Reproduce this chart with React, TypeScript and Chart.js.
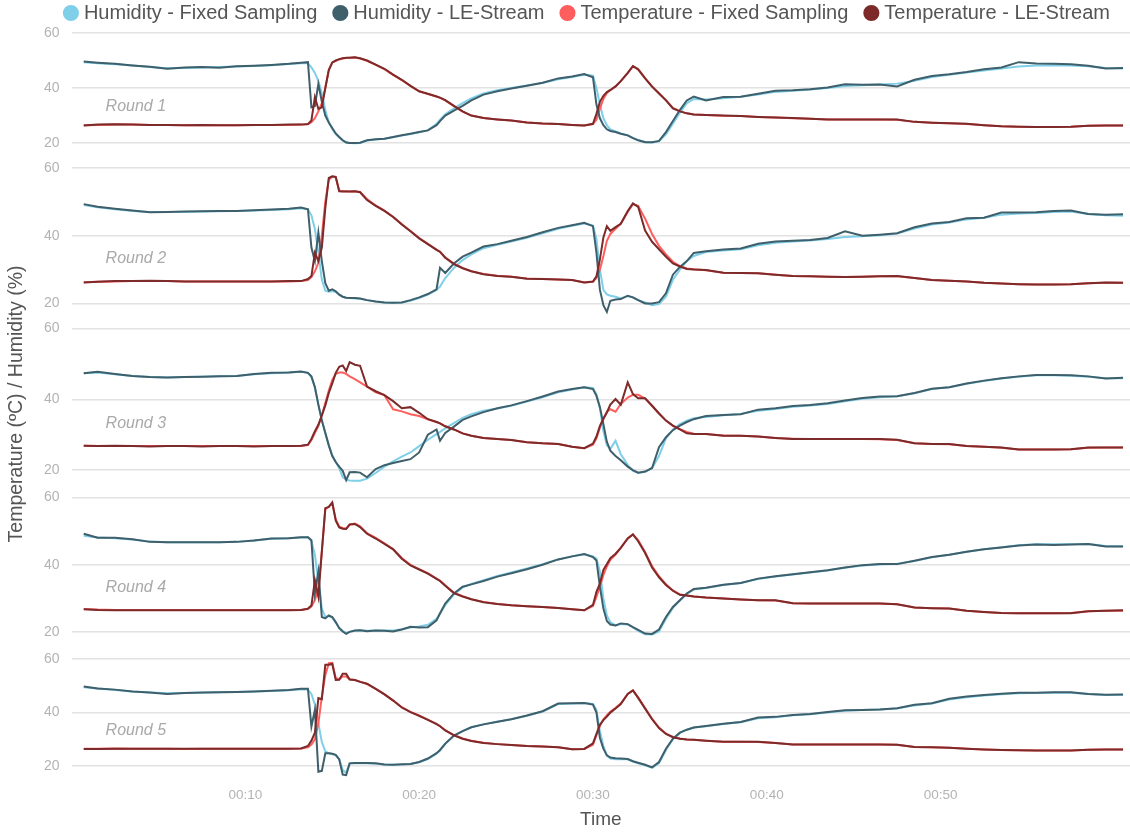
import React, { useEffect, useRef } from "react";
import { Chart, registerables } from "chart.js";

Chart.register(...registerables);

// Shared sampling grid (minutes since start), used by every round.
const minutes = [
  0.7, 1.5, 2.5, 3.5, 4.5, 5.5, 6.5, 7.5, 8.5, 9.5, 10.5, 11.5, 12.5, 13.2,
  13.6, 13.8, 14.0, 14.2, 14.4, 14.6, 14.8, 15.0, 15.2, 15.4, 15.6, 15.8, 16.0, 16.3, 16.6,
  17.0, 17.5, 18.0, 18.5, 19.0, 19.5, 20.0, 20.5, 21.0, 21.2, 21.5, 22.0, 22.5, 23.0, 23.7, 24.5, 25.3, 26.2, 27.1, 28.0, 28.8, 29.5,
  30.0, 30.2, 30.4, 30.6, 30.8, 31.0, 31.3, 31.6, 32.0, 32.3, 32.6, 33.0, 33.4, 33.8, 34.2, 34.6, 35.0, 35.4, 35.8,
  36.5, 37.5, 38.5, 39.5, 40.5, 41.5, 42.5, 43.5, 44.5, 45.5, 46.5, 47.5, 48.5, 49.5, 50.5, 51.5, 52.5, 53.5, 54.5, 55.5, 56.5, 57.5, 58.5, 59.5, 60.5,
];

// ---- Round 1 ----
const round1HumidityFixed = [
  49.4, 49.0, 48.6, 48.2, 47.6, 47.2, 47.3, 47.5, 47.6, 47.8, 48.0, 48.3, 48.7, 49.0,
  49.0, 47.5, 45.5, 42.5, 38.0, 32.0, 27.5, 25.0, 23.3, 22.0, 21.0, 20.3, 20.0, 19.9, 20.0,
  20.9, 21.3, 21.6, 22.1, 22.7, 23.3, 23.9, 24.6, 27.0, 28.5, 30.5, 32.6, 34.5, 36.2, 38.0, 39.2, 40.0, 40.9, 41.8, 43.2, 44.0, 44.8,
  44.5, 40.0, 34.0, 29.0, 26.5, 25.0, 24.2, 23.5, 22.8, 21.9, 21.1, 20.4, 20.2, 20.6, 23.2, 27.0, 31.0, 34.5, 36.0,
  35.8, 36.3, 36.8, 37.6, 38.6, 39.0, 39.5, 40.0, 40.7, 41.0, 41.3, 41.6, 42.6, 44.0, 44.8, 45.6, 46.4, 47.1, 47.8, 48.2, 48.3, 48.2, 47.9, 47.3, 47.1,
];
const round1HumidityLE = [
  49.6, 49.2, 48.8, 48.2, 47.7, 47.0, 47.5, 47.6, 47.4, 47.9, 48.1, 48.4, 48.8, 49.2,
  49.4, 33.0, 33.5, 41.5, 35.0, 30.0, 27.5, 25.5, 23.5, 22.2, 21.0, 20.2, 20.0, 20.0, 20.1,
  21.0, 21.4, 21.6, 22.2, 22.8, 23.4, 24.0, 24.6, 26.5, 28.0, 30.0, 31.8, 33.5, 35.5, 37.6, 38.8, 39.8, 40.8, 41.9, 43.5, 44.2, 45.1,
  43.9, 34.0, 29.0, 26.5, 25.0, 24.4, 24.0, 23.4, 22.8, 21.8, 21.0, 20.3, 20.3, 20.8, 24.0, 28.0, 32.0, 35.5, 36.9,
  35.5, 36.7, 36.8, 37.9, 39.0, 39.2, 39.6, 40.2, 41.4, 41.2, 41.3, 40.6, 43.0, 44.4, 45.0, 45.8, 46.8, 47.5, 49.4, 48.9, 48.8, 48.6, 48.1, 47.1, 47.3,
];
const round1TempFixed = [
  26.5, 26.6, 26.7, 26.7, 26.6, 26.6, 26.5, 26.5, 26.5, 26.5, 26.6, 26.6, 26.6, 26.7,
  26.8, 27.6, 29.0, 31.5, 34.5, 40.0, 46.5, 49.2, 49.9, 50.4, 50.7, 50.9, 51.0, 51.1, 50.7,
  49.9, 48.4, 46.9, 44.8, 42.9, 40.8, 38.8, 37.8, 36.9, 36.4, 35.5, 33.4, 31.4, 30.0, 29.1, 28.6, 28.2, 27.5, 27.1, 26.9, 26.6, 26.4,
  26.9, 28.5, 32.5, 36.0, 38.2, 39.2, 40.6, 42.5, 45.4, 47.9, 46.8, 43.6, 40.6, 38.1, 35.6, 32.8, 31.6, 30.8, 30.4,
  30.2, 29.9, 29.8, 29.5, 29.3, 29.0, 28.8, 28.6, 28.6, 28.6, 28.6, 28.5, 27.7, 27.4, 27.2, 26.9, 26.5, 26.1, 25.9, 25.8, 25.8, 25.9, 26.3, 26.4, 26.4,
];
const round1TempLE = [
  26.4, 26.7, 26.8, 26.7, 26.6, 26.6, 26.5, 26.6, 26.5, 26.5, 26.6, 26.6, 26.7, 26.7,
  26.9, 28.2, 36.7, 32.4, 33.0, 40.0, 46.5, 49.3, 50.0, 50.5, 50.8, 51.0, 51.0, 51.2, 50.8,
  50.0, 48.5, 47.0, 44.9, 43.0, 40.8, 38.8, 37.9, 36.9, 36.5, 35.6, 33.5, 31.5, 30.0, 29.1, 28.6, 28.2, 27.5, 27.1, 26.9, 26.6, 26.4,
  27.0, 30.6, 35.0, 37.2, 38.5, 39.3, 40.6, 42.5, 45.5, 48.0, 46.8, 43.5, 40.5, 38.0, 35.5, 32.6, 31.5, 30.8, 30.4,
  30.2, 30.0, 29.8, 29.5, 29.3, 29.1, 28.8, 28.6, 28.6, 28.6, 28.6, 28.6, 27.7, 27.4, 27.2, 27.0, 26.5, 26.1, 25.9, 25.8, 25.8, 25.9, 26.3, 26.4, 26.4,
];

// ---- Round 2 ----
const round2HumidityFixed = [
  49.0, 48.4, 47.8, 47.3, 47.0, 47.0, 47.0, 47.1, 47.2, 47.3, 47.4, 47.6, 47.8, 48.1,
  47.8, 46.0, 42.0, 35.0, 27.0, 23.8, 23.5, 23.7, 23.4, 22.6, 22.0, 21.7, 21.6, 21.5, 21.4,
  21.0, 20.6, 20.3, 20.2, 20.3, 20.8, 21.6, 22.6, 24.0, 25.0, 27.5, 30.5, 32.8, 34.5, 36.3, 37.3, 38.3, 39.4, 40.7, 42.0, 42.9, 43.6,
  43.0, 39.0, 30.0, 24.0, 22.7, 22.3, 22.0, 21.5, 22.2, 21.8, 21.0, 20.3, 19.5, 19.8, 22.0, 27.0, 30.0, 32.5, 34.0,
  35.2, 35.6, 36.0, 37.2, 37.9, 38.3, 38.6, 39.0, 39.6, 39.8, 40.1, 40.6, 42.1, 43.3, 43.9, 44.8, 45.3, 46.2, 46.5, 46.7, 47.0, 47.1, 46.4, 46.0, 45.9,
];
const round2HumidityLE = [
  49.3, 48.5, 47.9, 47.4, 46.9, 47.0, 47.1, 47.2, 47.3, 47.3, 47.5, 47.7, 47.9, 48.3,
  47.8, 36.5, 32.5, 40.9, 32.5, 26.0, 23.8, 24.2, 23.6, 22.6, 22.0, 21.7, 21.6, 21.6, 21.5,
  21.0, 20.6, 20.3, 20.2, 20.3, 21.0, 21.8, 22.8, 24.2, 30.5, 29.0, 31.8, 33.8, 35.0, 36.8, 37.5, 38.5, 39.6, 41.0, 42.3, 43.1, 43.8,
  42.8, 35.0, 24.0, 19.5, 17.5, 20.8, 21.2, 21.3, 22.3, 21.8, 21.0, 20.0, 20.0, 20.4, 23.0, 28.5, 30.8, 32.5, 34.9,
  35.4, 35.9, 36.2, 37.6, 38.3, 38.5, 38.7, 39.3, 41.3, 40.0, 40.3, 40.7, 42.5, 43.6, 44.0, 45.1, 45.3, 46.8, 46.8, 46.9, 47.3, 47.4, 46.4, 46.2, 46.3,
];
const round2TempFixed = [
  26.3, 26.4, 26.5, 26.6, 26.6, 26.6, 26.5, 26.5, 26.5, 26.5, 26.5, 26.5, 26.5, 26.6,
  26.9, 27.8, 29.5, 32.0, 40.0, 50.0, 56.5, 57.4, 57.2, 53.3, 53.1, 53.1, 53.0, 53.1, 52.9,
  50.8, 48.9, 47.4, 45.6, 43.4, 41.4, 39.3, 37.6, 35.9, 35.3, 33.6, 31.8, 30.5, 29.5, 28.7, 28.2, 27.9, 27.4, 27.2, 27.1, 26.9, 26.2,
  26.4, 27.5, 30.0, 34.0, 38.5, 40.5, 42.0, 43.5, 47.0, 49.3, 48.8, 45.0, 40.5, 37.0, 34.5, 32.3, 31.0, 30.3, 30.1,
  29.8, 29.1, 29.0, 28.9, 28.5, 28.1, 28.0, 27.9, 27.8, 27.9, 28.0, 28.0, 27.5, 26.9, 26.7, 26.5, 26.1, 25.9, 25.7, 25.6, 25.6, 25.7, 26.0, 26.1, 26.1,
];
const round2TempLE = [
  26.2, 26.4, 26.6, 26.6, 26.7, 26.6, 26.5, 26.5, 26.5, 26.5, 26.5, 26.5, 26.6, 26.6,
  27.2, 28.1, 35.0, 32.5, 36.5, 48.2, 57.0, 57.5, 57.3, 53.1, 53.0, 53.0, 53.0, 53.1, 52.8,
  50.5, 48.8, 47.3, 45.5, 43.3, 41.3, 39.2, 37.5, 35.8, 35.2, 33.5, 31.6, 30.4, 29.5, 28.6, 28.1, 27.9, 27.3, 27.2, 27.1, 26.9, 26.2,
  26.5, 28.0, 33.0, 39.5, 42.8, 41.4, 42.5, 43.5, 47.3, 49.5, 48.5, 41.5, 38.2, 36.0, 33.8, 31.8, 30.9, 30.2, 30.0,
  29.9, 29.1, 29.0, 28.9, 28.5, 28.1, 28.0, 27.9, 27.8, 27.9, 28.0, 28.1, 27.5, 26.9, 26.7, 26.5, 26.1, 25.9, 25.7, 25.6, 25.6, 25.7, 26.0, 26.2, 26.1,
];

// ---- Round 3 ----
const round3HumidityFixed = [
  47.4, 47.6, 47.1, 46.6, 46.3, 46.2, 46.3, 46.4, 46.5, 46.6, 47.1, 47.4, 47.6, 47.8,
  47.5, 46.3, 43.3, 38.5, 34.2, 30.5, 27.0, 24.2, 22.3, 20.5, 18.0, 17.3, 17.1, 17.0, 17.0,
  17.6, 19.2, 21.0, 22.5, 23.8, 25.0, 26.8, 28.6, 30.2, 30.8, 31.8, 33.3, 34.8, 35.8, 36.8, 37.4, 38.2, 39.4, 40.6, 42.0, 42.8, 43.4,
  43.2, 41.5, 37.5, 31.0, 27.0, 26.0, 28.3, 24.5, 21.5, 19.8, 19.2, 19.5, 20.5, 24.0, 29.0, 31.5, 33.0, 34.0, 34.7,
  35.0, 35.5, 35.9, 36.8, 37.3, 37.9, 38.3, 38.7, 39.5, 40.2, 40.6, 40.9, 41.7, 42.9, 43.4, 44.4, 45.2, 45.9, 46.4, 46.8, 46.8, 46.7, 46.4, 46.0, 46.0,
];
const round3HumidityLE = [
  47.4, 47.8, 47.2, 46.6, 46.3, 46.2, 46.3, 46.4, 46.5, 46.6, 47.2, 47.5, 47.6, 47.9,
  47.5, 46.5, 43.5, 38.5, 34.0, 30.5, 27.0, 24.0, 22.3, 21.0, 19.8, 17.2, 19.4, 19.5, 19.3,
  18.0, 20.3, 21.4, 22.0, 22.6, 23.1, 25.0, 30.0, 31.5, 28.3, 30.5, 32.3, 34.2, 35.2, 36.4, 37.5, 38.3, 39.5, 40.8, 42.2, 42.9, 43.4,
  42.9, 41.0, 37.8, 33.0, 28.0, 25.5, 24.0, 22.8, 21.0, 20.0, 19.3, 19.6, 20.6, 26.5, 29.3, 31.3, 32.6, 33.6, 34.4,
  35.3, 35.6, 35.8, 37.1, 37.5, 38.1, 38.4, 38.9, 39.7, 40.4, 40.8, 40.9, 41.8, 43.0, 43.4, 44.5, 45.3, 46.0, 46.5, 46.9, 46.9, 46.8, 46.5, 45.9, 46.1,
];
const round3TempFixed = [
  26.9, 26.8, 26.8, 26.8, 26.8, 26.8, 26.8, 26.8, 26.8, 26.8, 26.8, 26.8, 26.8, 26.8,
  27.1, 28.5, 30.5, 32.5, 35.5, 39.0, 42.5, 45.5, 47.2, 47.6, 47.6, 47.2, 46.5, 45.7, 44.8,
  43.6, 42.0, 41.2, 37.2, 36.6, 35.8, 35.3, 34.4, 33.6, 33.2, 32.4, 31.5, 30.4, 29.7, 29.1, 28.8, 28.5, 27.9, 27.6, 27.4, 26.6, 26.2,
  27.2, 29.0, 32.0, 34.5, 36.5, 37.2, 36.5, 38.7, 40.5, 41.3, 41.3, 40.2, 38.2, 36.0, 34.0, 32.5, 31.6, 30.8, 30.3,
  30.2, 29.8, 29.7, 29.5, 29.1, 28.9, 28.8, 28.8, 28.8, 28.8, 28.7, 28.5, 27.6, 27.4, 27.3, 26.8, 26.6, 26.3, 25.8, 25.8, 25.8, 25.9, 26.3, 26.4, 26.4,
];
const round3TempLE = [
  26.9, 26.8, 26.9, 26.8, 26.7, 26.8, 26.8, 26.7, 26.8, 26.8, 26.7, 26.8, 26.8, 26.9,
  27.2, 28.8, 31.0, 32.8, 35.5, 38.3, 41.8, 44.5, 47.5, 49.2, 49.6, 48.0, 50.5, 49.8, 49.5,
  43.6, 42.3, 41.2, 39.5, 37.5, 37.8, 36.2, 34.4, 33.6, 33.2, 32.4, 31.5, 30.4, 29.7, 29.1, 28.8, 28.5, 27.9, 27.6, 27.4, 26.6, 26.2,
  27.5, 29.5, 32.5, 34.5, 36.3, 38.5, 40.1, 38.5, 44.8, 41.5, 40.3, 40.3, 38.2, 36.0, 34.0, 32.6, 31.5, 30.4, 30.2,
  30.2, 29.7, 29.7, 29.5, 29.1, 28.8, 28.8, 28.8, 28.8, 28.8, 28.8, 28.6, 27.6, 27.4, 27.4, 26.8, 26.6, 26.4, 25.8, 25.8, 25.8, 25.9, 26.4, 26.4, 26.4,
];

// ---- Round 4 ----
const round4HumidityFixed = [
  48.6, 48.1, 47.9, 47.5, 46.9, 46.7, 46.7, 46.7, 46.7, 46.8, 47.2, 47.7, 47.9, 48.1,
  48.2, 47.0, 43.0, 35.0, 27.0, 24.5, 24.8, 24.3, 22.8, 21.3, 20.4, 19.8, 20.1, 20.4, 20.6,
  20.4, 20.5, 20.5, 20.5, 20.9, 21.4, 21.7, 22.2, 24.0, 25.5, 28.0, 31.2, 33.3, 34.3, 35.4, 36.7, 37.7, 38.9, 40.2, 41.6, 42.5, 43.1,
  42.5, 41.8, 38.0, 30.0, 25.0, 23.0, 22.0, 22.4, 22.3, 21.4, 20.4, 19.4, 19.3, 20.2, 24.0, 27.2, 29.4, 31.4, 32.7,
  33.1, 34.0, 34.6, 35.8, 36.5, 37.1, 37.7, 38.3, 39.1, 39.8, 40.1, 40.3, 41.1, 42.2, 43.0, 43.9, 44.6, 45.2, 45.8, 46.1, 46.1, 46.1, 46.2, 45.6, 45.5,
];
const round4HumidityLE = [
  49.2, 48.0, 48.0, 47.6, 46.8, 46.7, 46.7, 46.7, 46.7, 46.8, 47.2, 47.8, 47.9, 48.2,
  48.2, 47.3, 31.5, 38.0, 24.5, 24.1, 25.0, 24.5, 23.0, 21.2, 20.2, 19.5, 20.1, 20.5, 20.6,
  20.3, 20.5, 20.4, 20.2, 20.8, 21.6, 21.4, 21.5, 23.5, 25.6, 28.5, 31.5, 33.5, 34.2, 35.2, 36.5, 37.5, 38.7, 40.0, 41.6, 42.5, 43.2,
  42.3, 41.3, 33.5, 27.0, 23.3, 22.3, 22.0, 22.6, 22.4, 21.5, 20.7, 19.6, 19.5, 20.8, 24.5, 27.5, 29.5, 31.5, 32.8,
  33.2, 34.1, 34.6, 35.9, 36.6, 37.2, 37.8, 38.4, 39.2, 39.9, 40.2, 40.2, 41.2, 42.3, 43.0, 43.9, 44.6, 45.1, 45.7, 46.0, 45.9, 46.0, 46.2, 45.4, 45.4,
];
const round4TempFixed = [
  26.9, 26.7, 26.6, 26.6, 26.6, 26.6, 26.6, 26.6, 26.6, 26.6, 26.6, 26.6, 26.6, 26.6,
  26.9, 27.6, 29.5, 33.0, 44.0, 56.5, 57.2, 58.3, 53.5, 51.3, 50.9, 50.8, 51.9, 52.2, 51.4,
  49.4, 48.0, 46.4, 44.7, 42.0, 40.0, 38.7, 37.5, 35.9, 35.3, 33.9, 31.7, 30.7, 29.8, 29.0, 28.4, 28.0, 27.7, 27.5, 27.2, 26.8, 26.5,
  27.8, 30.5, 33.5, 37.0, 39.5, 41.5, 43.0, 45.0, 47.8, 49.0, 47.3, 43.8, 39.6, 36.6, 34.2, 32.4, 31.2, 30.9, 30.6,
  30.3, 30.0, 29.7, 29.5, 29.4, 28.6, 28.5, 28.5, 28.5, 28.5, 28.5, 28.3, 27.3, 27.1, 27.0, 26.4, 26.0, 25.7, 25.6, 25.6, 25.6, 25.7, 26.2, 26.4, 26.4,
];
const round4TempLE = [
  26.8, 26.6, 26.5, 26.5, 26.5, 26.5, 26.5, 26.5, 26.5, 26.5, 26.5, 26.5, 26.5, 26.6,
  27.0, 27.9, 35.4, 30.5, 44.0, 56.8, 57.2, 58.5, 53.1, 51.1, 50.7, 50.6, 52.0, 52.1, 51.2,
  49.2, 47.8, 46.2, 44.6, 41.8, 39.8, 38.6, 37.4, 35.8, 35.2, 33.8, 31.6, 30.6, 29.8, 28.9, 28.4, 28.0, 27.7, 27.5, 27.2, 26.8, 26.5,
  28.1, 32.0, 34.4, 38.5, 40.2, 42.0, 43.3, 45.0, 47.8, 49.0, 47.0, 43.5, 39.2, 36.3, 34.0, 32.3, 31.1, 30.9, 30.6,
  30.3, 30.0, 29.7, 29.5, 29.5, 28.6, 28.5, 28.5, 28.5, 28.5, 28.5, 28.3, 27.3, 27.1, 27.0, 26.4, 26.0, 25.7, 25.6, 25.6, 25.6, 25.6, 26.2, 26.4, 26.5,
];

// ---- Round 5 ----
const round5HumidityFixed = [
  49.5, 49.0, 48.5, 47.9, 47.5, 47.2, 47.3, 47.4, 47.6, 47.7, 47.9, 48.1, 48.4, 48.7,
  48.6, 47.0, 43.0, 36.0, 29.0, 25.5, 24.8, 24.5, 24.0, 22.6, 18.5, 17.5, 21.0, 21.1, 21.0,
  21.0, 20.9, 20.6, 20.5, 20.6, 20.8, 21.4, 22.6, 24.6, 25.8, 28.2, 31.3, 33.1, 34.5, 35.6, 36.6, 37.5, 38.8, 40.4, 43.2, 43.4, 43.6,
  43.2, 41.0, 33.0, 27.5, 24.0, 22.8, 22.5, 22.6, 22.5, 21.7, 21.0, 20.3, 19.4, 21.0, 26.0, 30.0, 32.4, 33.6, 34.4,
  34.9, 35.7, 36.4, 37.9, 38.3, 39.0, 39.4, 40.0, 40.7, 41.0, 41.2, 41.5, 42.7, 43.4, 44.9, 45.7, 46.4, 46.9, 47.2, 47.3, 47.4, 47.4, 47.0, 46.6, 46.7,
];
const round5HumidityLE = [
  49.8, 49.0, 48.6, 47.9, 47.5, 47.0, 47.3, 47.5, 47.6, 47.7, 47.9, 48.2, 48.5, 48.9,
  48.9, 34.8, 41.0, 17.9, 18.2, 24.8, 24.8, 24.6, 24.2, 22.5, 16.8, 16.6, 21.0, 21.1, 21.1,
  21.1, 21.0, 20.6, 20.5, 20.7, 20.8, 21.5, 22.8, 24.8, 26.0, 28.4, 31.4, 33.1, 34.5, 35.6, 36.6, 37.5, 38.9, 40.5, 43.4, 43.5, 43.6,
  43.0, 40.0, 30.5, 26.5, 24.0, 23.2, 22.9, 22.8, 22.6, 21.8, 21.2, 20.5, 19.5, 21.5, 26.5, 30.2, 32.5, 33.6, 34.4,
  35.0, 35.8, 36.5, 38.2, 38.4, 39.1, 39.5, 40.2, 40.9, 41.0, 41.2, 41.6, 42.9, 43.5, 45.2, 46.0, 46.6, 47.1, 47.4, 47.4, 47.6, 47.6, 47.0, 46.7, 46.8,
];
const round5TempFixed = [
  26.5, 26.5, 26.6, 26.5, 26.5, 26.5, 26.4, 26.5, 26.5, 26.5, 26.5, 26.5, 26.5, 26.6,
  27.0, 28.0, 30.0, 36.0, 46.0, 54.0, 58.5, 58.6, 53.0, 52.5, 53.5, 53.5, 52.5, 52.2, 51.6,
  50.7, 48.9, 46.9, 44.6, 42.0, 40.3, 38.9, 37.4, 35.8, 35.0, 33.4, 31.6, 30.3, 29.5, 28.7, 28.2, 27.9, 27.5, 27.3, 27.0, 26.3, 26.4,
  28.0, 31.5, 35.0, 37.5, 39.0, 40.3, 41.8, 43.4, 47.0, 48.3, 45.7, 41.7, 37.7, 34.4, 32.1, 30.9, 30.3, 29.9, 29.8,
  29.5, 29.1, 29.1, 29.0, 28.6, 28.1, 28.1, 28.1, 28.1, 28.1, 28.1, 28.0, 27.1, 27.0, 26.8, 26.5, 26.2, 26.0, 25.9, 25.8, 25.8, 25.8, 26.1, 26.2, 26.2,
];
const round5TempLE = [
  26.4, 26.4, 26.5, 26.5, 26.5, 26.5, 26.5, 26.5, 26.5, 26.5, 26.5, 26.5, 26.5, 26.6,
  27.5, 29.5, 32.5, 45.4, 45.0, 57.9, 57.9, 58.2, 52.2, 52.3, 54.5, 54.5, 52.4, 52.2, 51.5,
  50.8, 48.9, 46.8, 44.5, 41.9, 40.2, 38.8, 37.3, 35.7, 34.9, 33.3, 31.5, 30.2, 29.4, 28.6, 28.2, 27.9, 27.5, 27.3, 27.0, 26.3, 26.4,
  28.5, 32.0, 35.5, 37.2, 38.5, 40.0, 41.5, 43.2, 47.0, 48.3, 45.5, 41.5, 37.5, 34.2, 32.0, 30.8, 30.2, 29.9, 29.8,
  29.5, 29.1, 29.1, 29.1, 28.6, 28.1, 28.1, 28.1, 28.1, 28.1, 28.1, 28.0, 27.1, 27.0, 26.8, 26.5, 26.2, 26.0, 25.9, 25.8, 25.8, 25.8, 26.1, 26.2, 26.2,
];

const roundNames = ["Round 1", "Round 2", "Round 3", "Round 4", "Round 5"];
const seriesLabels = [
  "Humidity - Fixed Sampling",
  "Humidity - LE-Stream",
  "Temperature - Fixed Sampling",
  "Temperature - LE-Stream",
];
const yTickValues = [20, 40, 60];
const xTickMinutes = [10, 20, 30, 40, 50];

const roundSeries = [
  [round1HumidityFixed, round1HumidityLE, round1TempFixed, round1TempLE],
  [round2HumidityFixed, round2HumidityLE, round2TempFixed, round2TempLE],
  [round3HumidityFixed, round3HumidityLE, round3TempFixed, round3TempLE],
  [round4HumidityFixed, round4HumidityLE, round4TempFixed, round4TempLE],
  [round5HumidityFixed, round5HumidityLE, round5TempFixed, round5TempLE],
];

// Styling
const FONT = '"Liberation Sans", Arial, Helvetica, sans-serif';
const seriesColors = ["#7fcfe9", "#3f5f6b", "#ff5e5e", "#7c2a2a"];
const seriesDrawOrder = [4, 2, 3, 1]; // dark (LE-Stream) lines sit above the light ones
const panelMins = [11, 12.6, 12.3, 12, 12.9];
const panelHeights = [135, 161, 169, 162, 126];
const roundLabelLevel = 33.3;
const yTitle = "Temperature (ºC) / Humidity (%)";

const roundLabelsPlugin = {
  id: "roundLabels",
  beforeDatasetsDraw(chart: any) {
    const { ctx, chartArea } = chart;
    ctx.save();
    ctx.font = `italic 16px ${FONT}`;
    ctx.fillStyle = "#a9a9a9";
    ctx.textBaseline = "middle";
    ctx.textAlign = "left";
    roundNames.forEach((name, i) => {
      const scale = chart.scales[`y${i + 1}`];
      ctx.fillText(name, chartArea.left + 34, scale.getPixelForValue(roundLabelLevel));
    });
    ctx.restore();
  },
  afterDraw(chart: any) {
    const { ctx, chartArea } = chart;
    ctx.save();
    ctx.translate(17, (chartArea.top + chartArea.bottom) / 2 - 5);
    ctx.rotate(-Math.PI / 2);
    ctx.font = `19.5px ${FONT}`;
    ctx.fillStyle = "#555555";
    ctx.textAlign = "center";
    ctx.textBaseline = "middle";
    ctx.fillText(yTitle, 0, 0);
    ctx.restore();
  },
};

export default function App() {
  const canvasRef = useRef<HTMLCanvasElement | null>(null);

  useEffect(() => {
    if (!canvasRef.current) return;

    const datasets: any[] = [];
    roundSeries.forEach((series, r) => {
      series.forEach((values, s) => {
        datasets.push({
          label: seriesLabels[s],
          data: minutes.map((t, k) => ({ x: t, y: values[k] ?? null })),
          yAxisID: `y${r + 1}`,
          borderColor: seriesColors[s],
          backgroundColor: seriesColors[s],
          borderWidth: 2,
          pointRadius: 0,
          pointHoverRadius: 0,
          tension: 0,
          fill: false,
          order: seriesDrawOrder[s],
        });
      });
    });

    const scales: any = {
      x: {
        type: "linear",
        min: 0,
        max: 60.9,
        afterBuildTicks: (scale: any) => {
          scale.ticks = xTickMinutes.map((v) => ({ value: v }));
        },
        grid: { display: false, drawTicks: false },
        border: { display: false },
        ticks: {
          color: "#b3b3b3",
          font: { size: 13.5, family: FONT },
          padding: 2,
          maxRotation: 0,
          callback: (v: any) => `00:${String(v).padStart(2, "0")}`,
        },
        title: {
          display: true,
          text: "Time",
          color: "#555555",
          font: { size: 19, family: FONT },
          padding: { top: 3, bottom: 0 },
        },
      },
    };

    roundNames.forEach((_, i) => {
      scales[`y${i + 1}`] = {
        type: "linear",
        position: "left",
        stack: "rounds",
        stackWeight: panelHeights[i],
        weight: roundNames.length - i,
        min: panelMins[i],
        max: 60,
        afterBuildTicks: (scale: any) => {
          scale.ticks = yTickValues.map((v) => ({ value: v }));
        },
        grid: { color: "#e2e2e2", lineWidth: 1.5, drawTicks: false },
        border: { display: false },
        ticks: {
          color: "#b3b3b3",
          font: { size: 14, family: FONT },
          padding: 12,
        },
      };
    });

    const chart = new Chart(canvasRef.current, {
      type: "line",
      data: { datasets },
      options: {
        animation: false,
        responsive: true,
        maintainAspectRatio: false,
        parsing: false,
        layout: { padding: { left: 32, right: 0, top: -17, bottom: 1 } },
        interaction: { mode: "nearest", intersect: false },
        plugins: {
          tooltip: { enabled: false },
          legend: {
            position: "top",
            align: "end",
            onClick: (_e: any, item: any, legend: any) => {
              const ch = legend.chart;
              const label = item.text;
              ch.data.datasets.forEach((ds: any, idx: number) => {
                if (ds.label === label) {
                  ch.setDatasetVisibility(idx, !ch.isDatasetVisible(idx));
                }
              });
              ch.update();
            },
            labels: {
              usePointStyle: true,
              pointStyle: "circle",
              boxWidth: 6,
              boxHeight: 10,
              padding: 20,
              color: "#555555",
              font: { size: 20, family: FONT },
              filter: (item: any) => item.datasetIndex < seriesLabels.length,
              sort: (a: any, b: any) => a.datasetIndex - b.datasetIndex,
            },
          },
        },
        scales,
      } as any,
      plugins: [roundLabelsPlugin],
    });

    return () => chart.destroy();
  }, []);

  return (
    <div style={{ position: "absolute", left: 0, top: 0, width: 1130, height: 832 }}>
      <canvas ref={canvasRef} />
    </div>
  );
}
